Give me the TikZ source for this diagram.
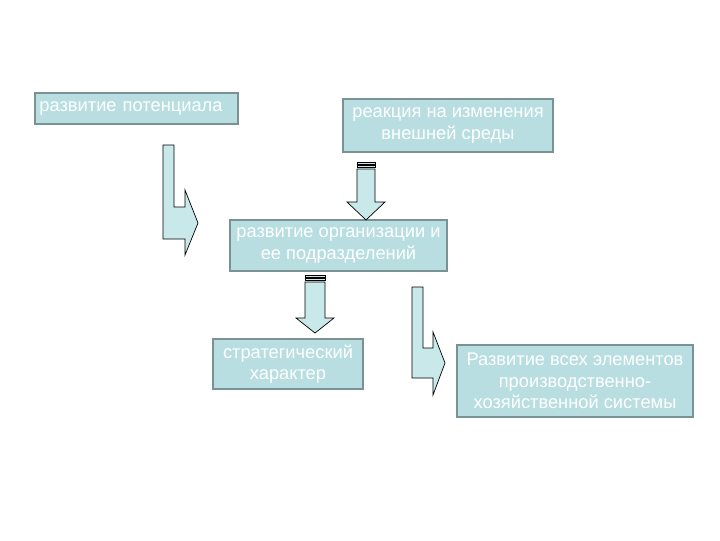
\documentclass[tikz,border=0pt]{standalone}
\usepackage{fontspec}
\setmainfont{Liberation Sans}
\usepackage{tikz}
\usetikzlibrary{calc}
\definecolor{cBox}{RGB}{184,222,225}
\definecolor{cBoxLn}{RGB}{122,146,147}
\definecolor{cArr}{RGB}{200,232,234}
\tikzset{
  box/.style   ={draw=cBoxLn,fill=cBox,line width=1.3pt,inner sep=0pt,
                 align=center,text=white,font=\fontsize{13}{15.3}\selectfont},
  blockarr/.style={draw=black,fill=cArr,line width=0.5pt,line join=miter},
}
% down block arrow with two stripes: #1 centre x, #2 top, #3 head base, #4 tip,
% #5 half stem width, #6 half head width
\newcommand{\dnarr}[6]{%
  \draw[blockarr] (#1-#5,#2) rectangle (#1+#5,#2+2);
  \draw[blockarr] (#1-#5,#2+3.5) rectangle (#1+#5,#2+5.5);
  \draw[blockarr] (#1-#5,#2+7) -- (#1+#5,#2+7) -- (#1+#5,#3) -- (#1+#6,#3)
    -- (#1,#4) -- (#1-#6,#3) -- (#1-#5,#3) -- cycle;}
% bent block arrow: #1 stem left, #2 stem right, #3 top, #4 bar top, #5 bar bottom,
% #6 head base x, #7 head top, #8 head bottom, #9 tip x
\newcommand{\bentarr}[9]{%
  \draw[blockarr] (#1,#3) -- (#2,#3) -- (#2,#4) -- (#6,#4) -- (#6,#7)
    -- (#9,{(#4+#5)/2}) -- (#6,#8) -- (#6,#5) -- (#1,#5) -- cycle;}

\begin{document}
\begin{tikzpicture}[x=0.025cm,y=-0.025cm]
\useasboundingbox (0,0) rectangle (720,540);

%% ================= boxes =================================================
\node[box,minimum width=5.08cm,minimum height=0.78cm,text width=4.85cm,align=left]
  (pot) at (136.5,108.5) {развитие потенциала};
\node[box,minimum width=5.25cm,minimum height=1.33cm]
  (rk) at (448,125.5) {реакция на изменения\\внешней среды};
\node[box,minimum width=5.43cm,minimum height=1.28cm]
  (ro) at (338.5,245.5) {развитие организации и\\ее подразделений};
\node[box,minimum width=3.75cm,minimum height=1.25cm]
  (sk) at (288,364) {стратегический\\характер};
\node[box,minimum width=5.9cm,minimum height=1.8cm]
  (rv) at (575,381) {Развитие всех элементов\\производственно-\\хозяйственной системы};

%% ================= block arrows ==========================================
\bentarr{163}{174}{145}{207}{239}{185}{190}{255}{198}
\dnarr{366}{162}{202}{220}{9}{19}
\dnarr{315}{275}{318}{333}{10}{19}
\bentarr{412}{423}{287}{348}{378}{433}{332}{395}{445}

\end{tikzpicture}
\end{document}
